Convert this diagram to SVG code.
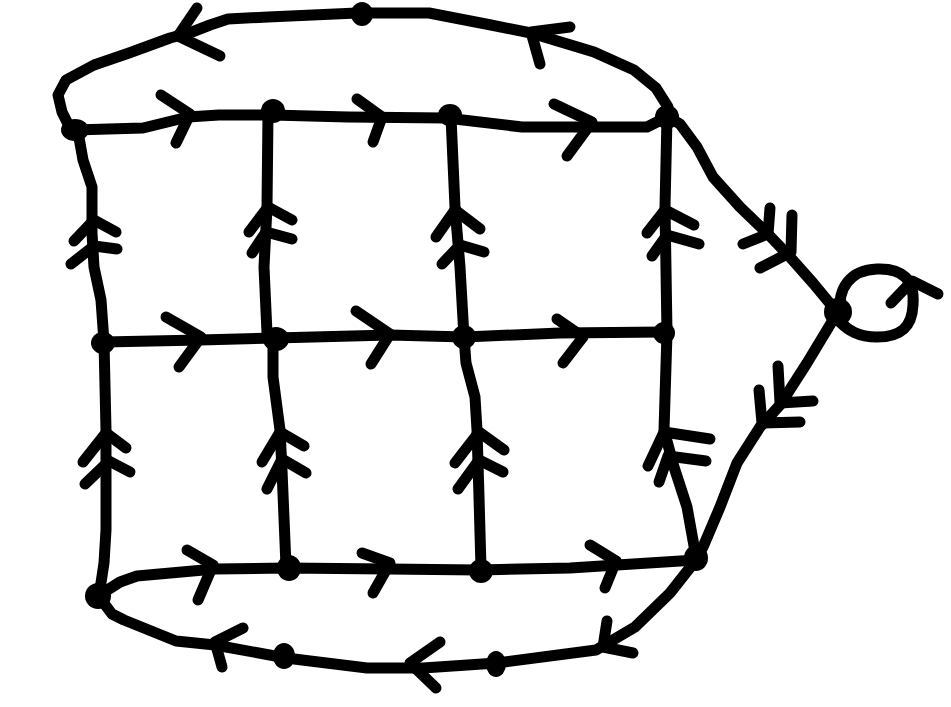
<svg xmlns="http://www.w3.org/2000/svg" width="951" height="707" viewBox="0 0 951 707">
<style>
.e{fill:none;stroke:#000;stroke-width:11;stroke-linecap:round;stroke-linejoin:round}
.n{fill:#000}
</style>
<rect width="951" height="707" fill="#fff"/>
<g id="connectors">
<!-- top arc -->
<path class="e" d="M70,128 L62,112 L58,95 L66,80 L94,65 L129,53 L170,38 L192,32 L210,25 L228,19 L268,17 L357,13 L429,13 L491,25 L531,33 L594,52 L634,70 L656,88 L668,107 L667,117"/>
<polyline class="e" points="197,8 178,36 220,56"/>
<polyline class="e" points="570,27 531,32 540,64"/>
<!-- top row -->
<path class="e" d="M74,130 L143,128 L188,117 L219,115 L272,115 L348,117 L446,118 L522,127 L647,127 L667,117"/>
<polyline class="e" points="161,95 190,114 176,143"/>
<polyline class="e" points="357,99 382,117 373,142"/>
<polyline class="e" points="554,104 592,122 567,156"/>
<!-- middle row -->
<path class="e" d="M104,342 L200,340 L275,338 L390,335 L465,337 L560,333 L664,332"/>
<polyline class="e" points="166,317 201,337 179,367"/>
<polyline class="e" points="356,311 390,334 371,364"/>
<polyline class="e" points="557,319 583,337 563,363"/>
<!-- bottom row -->
<path class="e" d="M98,596 L120,582 L137,576 L215,569 L286,568 L388,569 L479,570 L570,568 L696,560"/>
<polyline class="e" points="187,550 213,565 198,600"/>
<polyline class="e" points="362,553 390,563 373,593"/>
<polyline class="e" points="590,545 616,561 605,588"/>
<!-- bottom arc -->
<path class="e" d="M100,598 L112,614 L124,620 L176,641 L215,645 L286,658 L367,668 L423,668 L497,663 L596,650 L635,627 L670,593 L696,560"/>
<polyline class="e" points="243,628 215,642 222,667"/>
<polyline class="e" points="440,642 410,663 436,688"/>
<polyline class="e" points="607,621 603,647 633,653"/>
<!-- vertical col 0 -->
<path class="e" d="M78,132 L83,160 L92,187 L92,233 L94,267 L101,300 L104,342 L106,430 L106,530 L104,563 L99,596"/>
<polyline class="e" points="74,241 94,220 116,232"/>
<polyline class="e" points="71,264 94,246 117,249"/>
<polyline class="e" points="83,462 106,433 126,448"/>
<polyline class="e" points="85,484 109,461 130,472"/>
<!-- vertical col 1 -->
<path class="e" d="M268,113 L267,207 L264,267 L267,333 L273,343 L273,377 L280,430 L282,470 L286,566"/>
<polyline class="e" points="249,232 268,207 292,220"/>
<polyline class="e" points="252,253 266,232 292,239"/>
<polyline class="e" points="262,462 280,432 304,446"/>
<polyline class="e" points="267,489 282,459 306,473"/>
<!-- vertical col 2 -->
<path class="e" d="M451,117 L455,207 L460,267 L464,337 L466,363 L475,397 L477,430 L479,497 L481,568"/>
<polyline class="e" points="436,237 455,210 480,229"/>
<polyline class="e" points="442,264 460,245 484,252"/>
<polyline class="e" points="455,463 479,432 504,450"/>
<polyline class="e" points="458,489 479,460 503,472"/>
<!-- vertical col 3 -->
<path class="e" d="M667,117 L665,207 L667,333 L664,430 L674,467 L687,507 L696,557"/>
<polyline class="e" points="647,233 665,210 694,225"/>
<polyline class="e" points="652,256 667,235 699,244"/>
<polyline class="e" points="648,466 664,432 710,439"/>
<polyline class="e" points="659,482 668,456 706,461"/>
<!-- right: top-right to right node -->
<path class="e" d="M668,117 L680,124 L697,147 L713,177 L740,207 L767,233 L790,257 L813,283 L837,312"/>
<polyline class="e" points="770,208 768,234 743,244"/>
<polyline class="e" points="792,215 791,252 760,268"/>
<!-- loop -->
<path class="e" d="M840,312 C838,288 850,270 877,269 C903,268 915,280 913,305 C912,328 900,337 877,337 C858,337 848,330 840,322"/>
<polyline class="e" points="891,303 912,281 938,294"/>
<!-- right node to bottom-right -->
<path class="e" d="M836,315 L807,363 L780,405 L760,427 L737,463 L720,507 L703,547 L696,558"/>
<polyline class="e" points="778,366 780,403 813,401"/>
<polyline class="e" points="759,390 762,423 800,422"/>
</g>
<g id="n1"><ellipse class="n" cx="75" cy="130" rx="14" ry="11"/></g>
<g id="n2"><ellipse class="n" cx="273" cy="111" rx="12" ry="12"/></g>
<g id="n3"><ellipse class="n" cx="450" cy="115" rx="12" ry="11"/></g>
<g id="n4"><ellipse class="n" cx="667" cy="117" rx="12" ry="12"/></g>
<g id="n5"><ellipse class="n" cx="362" cy="14" rx="11" ry="12"/></g>
<g id="n6"><ellipse class="n" cx="103" cy="343" rx="12" ry="11"/></g>
<g id="n7"><ellipse class="n" cx="276" cy="339" rx="13" ry="12"/></g>
<g id="n8"><ellipse class="n" cx="464" cy="337" rx="12" ry="12"/></g>
<g id="n9"><ellipse class="n" cx="664" cy="333" rx="11" ry="11"/></g>
<g id="n10"><ellipse class="n" cx="98" cy="596" rx="13" ry="13"/></g>
<g id="n11"><ellipse class="n" cx="289" cy="568" rx="12" ry="13"/></g>
<g id="n12"><ellipse class="n" cx="481" cy="571" rx="12" ry="12"/></g>
<g id="n13"><ellipse class="n" cx="696" cy="558" rx="12" ry="13"/></g>
<g id="n14"><ellipse class="n" cx="284" cy="656" rx="11" ry="13"/></g>
<g id="n15"><ellipse class="n" cx="496" cy="664" rx="10" ry="13"/></g>
<g id="n16"><ellipse class="n" cx="838" cy="312" rx="14" ry="14"/></g>
</svg>
